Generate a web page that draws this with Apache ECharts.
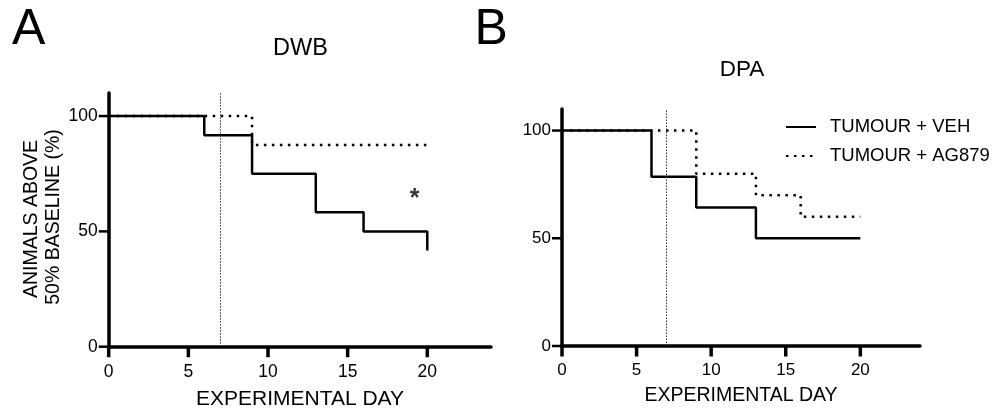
<!DOCTYPE html>
<html>
<head>
<meta charset="utf-8">
<script src="https://cdn.jsdelivr.net/npm/echarts@6/dist/echarts.min.js"></script>
<style>
html,body{margin:0;padding:0;background:#fff;}
#chart{width:996px;height:411px;}
</style>
</head>
<body>
<div id="chart"></div>
<script>
// ---- data ----
const seriesNames = ['TUMOUR + VEH', 'TUMOUR + AG879'];
// Panel A: DWB
const dwbVehDays = [0, 6, 9, 13, 16, 20];
const dwbVehPct  = [100, 91.7, 75, 58.3, 50, 41.7];
const dwbAgDays  = [0, 9, 20];
const dwbAgPct   = [100, 87.5, 87.5];
const dwbSigMark = [[19.2, 66.5]];
// Panel B: DPA
const dpaVehDays = [0, 6, 9, 13, 20];
const dpaVehPct  = [100, 78.6, 64.3, 50, 50];
const dpaAgDays  = [0, 9, 13, 16, 20];
const dpaAgPct   = [100, 80, 70, 60, 60];
// treatment start day (reference line)
const treatDay = 7;
// axis ranges and ticks
const xMax = 24, yMax = 110;
const xTicks = [0, 5, 10, 15, 20];
const yTicks = [0, 50, 100];

const zip = (a, b) => a.map((v, i) => [v, b[i]]);
const FONT = "'Liberation Sans', Arial, sans-serif";

function xAxisOpt(idx, fs) {
  return {
    type: 'value', gridIndex: idx, min: 0, max: xMax,
    axisLine: { show: true, onZero: false, lineStyle: { color: '#000', width: 3.5 } },
    axisTick: { show: false },
    axisLabel: { customValues: xTicks, margin: 16, fontFamily: FONT, fontSize: fs, color: '#000' },
    splitLine: { show: false }
  };
}
function yAxisOpt(idx, fs) {
  return {
    type: 'value', gridIndex: idx, min: 0, max: yMax,
    axisLine: { show: true, onZero: false, lineStyle: { color: '#000', width: 3.5 } },
    axisTick: { show: false },
    axisLabel: { customValues: yTicks, margin: 11, fontFamily: FONT, fontSize: fs, color: '#000' },
    splitLine: { show: false }
  };
}
// tick marks drawn through the axis scales
function tickSeries(idx, dim, values, len, width) {
  return {
    type: 'custom', xAxisIndex: idx, yAxisIndex: idx, silent: true, clip: false, z: 10,
    data: values.map(v => dim === 'x' ? [v, 0] : [0, v]),
    encode: { x: 0, y: 1 },
    renderItem: function (params, api) {
      const p = api.coord([api.value(0), api.value(1)]);
      const shape = dim === 'x'
        ? { x1: p[0], y1: p[1], x2: p[0], y2: p[1] + len }
        : { x1: p[0] - len, y1: p[1], x2: p[0], y2: p[1] };
      return { type: 'line', shape: shape, style: { stroke: '#000', lineWidth: width } };
    }
  };
}
function refLine() {
  return {
    silent: true, symbol: 'none', animation: false,
    label: { show: false },
    lineStyle: { color: '#333', width: 1, type: [1.5, 1.5] },
    data: [{ xAxis: treatDay }]
  };
}
function solid(idx, data, withRef) {
  const s = {
    name: seriesNames[0], type: 'line', xAxisIndex: idx, yAxisIndex: idx,
    step: 'end', symbol: 'none', data: data,
    lineStyle: { color: '#000', width: 2.5, type: 'solid' },
    itemStyle: { color: '#000' }
  };
  if (withRef) s.markLine = refLine();
  return s;
}
function dotted(idx, data) {
  return {
    name: seriesNames[1], type: 'line', xAxisIndex: idx, yAxisIndex: idx,
    step: 'end', symbol: 'none', data: data,
    lineStyle: { color: '#000', width: 2.5, type: [2.5, 5.5] },
    itemStyle: { color: '#000' }
  };
}
function txt(x, y, s, size, rot) {
  return { type: 'text', x: x, y: y, rotation: rot || 0,
    style: { text: s, font: size + 'px ' + FONT, fill: '#000', align: 'center', verticalAlign: 'middle' } };
}

const chart = echarts.init(document.getElementById('chart'), null, { renderer: 'canvas' });
chart.setOption({
  animation: false,
  backgroundColor: '#fff',
  textStyle: { fontFamily: FONT },
  grid: [
    { left: 108.7, top: 93, width: 382.3, height: 253.7 },
    { left: 562, top: 109, width: 358, height: 237 }
  ],
  xAxis: [xAxisOpt(0, 17.5), xAxisOpt(1, 17)],
  yAxis: [yAxisOpt(0, 17.5), yAxisOpt(1, 17)],
  legend: {
    data: seriesNames, orient: 'vertical', left: 785, top: 117, padding: 0,
    itemWidth: 30, itemHeight: 20, itemGap: 9,
    itemStyle: { opacity: 0 },
    textStyle: { fontFamily: FONT, fontSize: 18.5, color: '#000', lineHeight: 20, padding: [0, 0, 0, 9] },
    selectedMode: false
  },
  graphic: [
    { type: 'text', left: 12, top: 5, style: { text: 'A', font: '50px ' + FONT, fill: '#000' } },
    { type: 'text', left: 474.5, top: 5, style: { text: 'B', font: '50px ' + FONT, fill: '#000' } },
    txt(300.5, 49, 'DWB', 23.5),
    txt(742, 70, 'DPA', 22.5),
    txt(300, 399, 'EXPERIMENTAL DAY', 21),
    txt(741, 395.5, 'EXPERIMENTAL DAY', 19.5),
    txt(31.7, 219, 'ANIMALS ABOVE', 19.5, Math.PI / 2),
    txt(53.5, 217, '50% BASELINE (%)', 19.5, Math.PI / 2)
  ],
  series: [
    solid(0, zip(dwbVehDays, dwbVehPct), true),
    dotted(0, zip(dwbAgDays, dwbAgPct)),
    {
      type: 'scatter', xAxisIndex: 0, yAxisIndex: 0, data: dwbSigMark,
      symbol: 'circle', symbolSize: 1, itemStyle: { color: 'rgba(0,0,0,0)' }, silent: true,
      label: { show: true, position: 'inside', formatter: '*', offset: [0, 6],
               fontFamily: FONT, fontSize: 25, fontWeight: 'bold', color: '#000' }
    },
    solid(1, zip(dpaVehDays, dpaVehPct), true),
    dotted(1, zip(dpaAgDays, dpaAgPct)),
    tickSeries(0, 'x', xTicks, 10.5, 3.5),
    tickSeries(0, 'y', yTicks, 10, 2.5),
    tickSeries(1, 'x', xTicks, 10.5, 3.5),
    tickSeries(1, 'y', yTicks, 10, 2.5)
  ]
});
</script>
</body>
</html>
